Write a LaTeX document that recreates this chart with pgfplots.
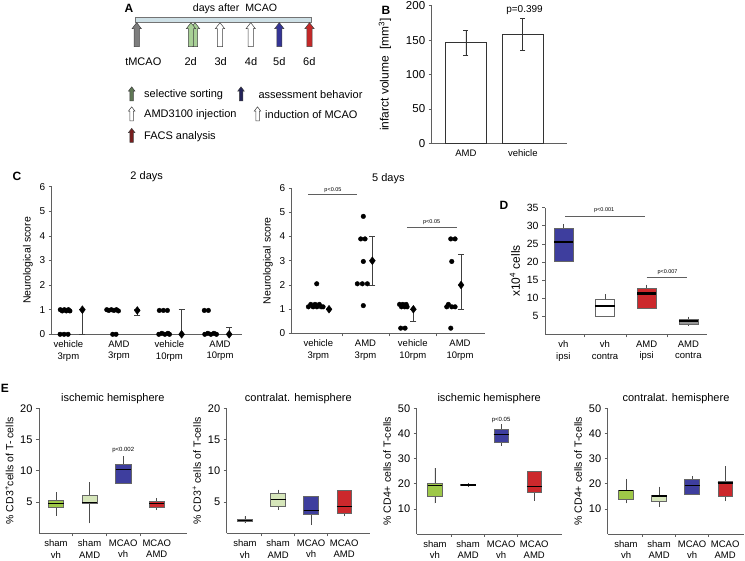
\documentclass[border=0pt]{standalone}
\usepackage{pgfplots}
\pgfplotsset{compat=1.18}
\usepgfplotslibrary{statistics}
\usetikzlibrary{shapes.arrows}
\usepackage{fontspec}
\setmainfont{Liberation Sans}
\setsansfont{Liberation Sans}

\definecolor{axgray}{RGB}{95,95,95}
\definecolor{boxblue}{RGB}{62,62,158}
\definecolor{boxred}{RGB}{204,40,44}
\definecolor{boxgreen}{RGB}{158,200,72}
\definecolor{boxpale}{RGB}{214,230,186}
\definecolor{boxgray}{RGB}{150,150,150}
\definecolor{barblue}{RGB}{206,224,230}
\definecolor{arrgray}{RGB}{125,125,125}
\definecolor{arrgreen}{RGB}{168,208,150}
\definecolor{arrblue}{RGB}{52,52,150}
\definecolor{arrred}{RGB}{196,40,40}
\definecolor{leggreen}{RGB}{95,120,85}
\definecolor{legblue}{RGB}{35,35,90}
\definecolor{legred}{RGB}{120,30,30}

\newcommand{\fs}[1]{\fontsize{#1}{#1}\selectfont}

\pgfplotsset{
  panel/.style={
    scale only axis, anchor=south west, clip=false,
    axis x line*=bottom, axis y line*=left,
    axis line style={axgray, line width=0.8pt, -},
    tick style={axgray, line width=0.7pt},
    tick align=outside, major tick length=3pt, minor tick length=3pt,
    /pgf/number format/assume math mode=true,
    tick label style={font=\fs{9.5}},
    xticklabel style={align=center, font=\fontsize{9.5}{11.5}\selectfont},
    label style={font=\fs{10.5}},
    title style={font=\fs{11}, yshift=-5pt},
  },
  bx/.style n args={6}{boxplot prepared={draw position=#1, lower whisker=#2,
    lower quartile=#3, median=#4, upper quartile=#5, upper whisker=#6}},
  boxes/.style={
    boxplot/draw direction=y,
    boxplot/box extend=0.45, boxplot/whisker extend=0,
    boxplot/every median/.style={line width=1.1pt, black},
    boxplot/every whisker/.style={black!70, line width=0.7pt},
  },
  sham/.style={xtick={1,2,3,4}, major x tick style={draw=none},
    minor xtick={1.5,2.5,3.5},
    xticklabels={{sham\\vh},{sham\\AMD},{MCAO\\vh},{MCAO\\AMD}}},
  dots/.style={only marks, mark=*, mark size=2.3pt, black},
  diam/.style={only marks, mark=diamond*, mark size=3.9pt, black,
    error bars/.cd, y dir=both, y explicit,
    error bar style={line width=0.8pt, black!75},
    error mark options={rotate=90, mark size=3pt, line width=0.8pt, black!75}},
}

\begin{document}
\begin{tikzpicture}
\useasboundingbox (0pt,0pt) rectangle (745pt,561pt);

% ---------- overlay: panel A schematic and panel letters ----------
\begin{axis}[hide axis, scale only axis, at={(0pt,0pt)}, anchor=south west,
  width=745pt, height=561pt, xmin=0, xmax=745, ymin=0, ymax=561,
  y dir=reverse, clip=false]
\tikzset{bigarr/.style={single arrow, rotate=90, draw=black!75, line width=0.5pt,
    minimum height=24pt, inner sep=2.3pt, single arrow head extend=2.1pt,
    single arrow tip angle=75},
  smallarr/.style={single arrow, rotate=90, draw=black!75, line width=0.5pt,
    minimum height=14pt, inner sep=1.5pt, single arrow head extend=1.5pt,
    single arrow tip angle=75}}
\node[font=\bfseries\fs{12}] at (axis cs:129,8.5) {A};
\node[font=\bfseries\fs{12}] at (axis cs:386,10) {B};
\node[font=\bfseries\fs{12}] at (axis cs:17,176) {C};
\node[font=\bfseries\fs{12}] at (axis cs:504,205) {D};
\node[font=\bfseries\fs{12}] at (axis cs:5,388) {E};
\node[font=\fs{10.6}] at (axis cs:235,8.5) {days after\ \ MCAO};
\draw[fill=barblue, draw=black!55, line width=0.5pt] (axis cs:135,17.7) rectangle (axis cs:311.7,22.3);
\node[bigarr, fill=arrgray] at (axis cs:136.7,36.3) {};
\node[bigarr, fill=arrgreen] at (axis cs:195,36.3) {};
\node[bigarr, fill=arrgreen] at (axis cs:191,36.3) {};
\node[bigarr, fill=white] at (axis cs:220,36.3) {};
\node[bigarr, fill=white] at (axis cs:250.7,36.3) {};
\node[bigarr, fill=arrblue] at (axis cs:279.3,36.3) {};
\node[bigarr, fill=arrred] at (axis cs:309.5,36.3) {};
\begin{scope}[font=\fs{11}]
\node at (axis cs:143.3,62) {tMCAO};
\node at (axis cs:190.7,62) {2d};
\node at (axis cs:220.7,62) {3d};
\node at (axis cs:251,62) {4d};
\node at (axis cs:279.3,62) {5d};
\node at (axis cs:309.3,62) {6d};
\node[smallarr, fill=leggreen] at (axis cs:131.7,95) {};
\node[anchor=west, inner sep=0pt] at (axis cs:144,95) {selective sorting};
\node[smallarr, fill=white] at (axis cs:131.7,115) {};
\node[anchor=west, inner sep=0pt] at (axis cs:144,115) {AMD3100 injection};
\node[smallarr, fill=legred] at (axis cs:131.7,136.5) {};
\node[anchor=west, inner sep=0pt] at (axis cs:144,136.5) {FACS analysis};
\node[smallarr, fill=legblue] at (axis cs:241,95) {};
\node[anchor=west, inner sep=0pt] at (axis cs:258.3,95) {assessment behavior};
\node[smallarr, fill=white] at (axis cs:257.5,115) {};
\node[anchor=west, inner sep=0pt] at (axis cs:265,115) {induction of MCAO};
\end{scope}
\end{axis}

% ---------- B ----------
\begin{axis}[panel, at={(431.7pt,417.7pt)}, width=135pt, height=137.6pt,
  xmin=0.4, xmax=2.77, ymin=0, ymax=200, ytick={0,50,100,150,200},
  xtick={1,2}, xticklabels={AMD,vehicle}, xtick style={draw=none},
  tick label style={font=\fs{11.5}}, label style={font=\fs{12}},
  ylabel style={yshift=8pt},
  ylabel={infarct volume\ \ [mm\textsuperscript{3}]}]
\addplot[ybar, bar width=41pt, fill=white, draw=black!80, line width=0.8pt,
  error bars/.cd, y dir=both, y explicit,
  error bar style={line width=0.7pt, black!80},
  error mark options={rotate=90, mark size=2.5pt, line width=0.7pt, black!80}]
  coordinates {(1,146) +- (0,17.5) (2,158) +- (0,23.5)};
\node[font=\fs{10}] at (axis cs:2.03,193) {p=0.399};
\end{axis}

% ---------- C, 2 days ----------
\begin{axis}[panel, at={(51.7pt,226.7pt)}, width=190pt, height=147.6pt,
  xmin=0.67, xmax=4.43, ymin=0, ymax=6, ytick={0,1,2,3,4,5,6},
  xtick={1,2,3,4}, xtick style={draw=none},
  tick label style={font=\fs{10}},
  xticklabels={{vehicle\\3rpm},{AMD\\3rpm},{vehicle\\10rpm},{AMD\\10rpm}},
  ylabel={Neurological score}, title={2 days}]
\addplot[dots] coordinates {
  (0.84,1) (0.88,0.95) (0.92,1) (0.96,0.95) (1.0,1) (1.03,0.95)
  (0.836,0) (0.915,0) (0.994,0)
  (1.76,1) (1.80,0.97) (1.85,1) (1.90,0.97) (1.95,1) (1.99,0.95)
  (1.877,0) (1.943,0)
  (2.80,0.97) (2.88,0.97) (2.96,0.97)
  (2.79,0) (2.85,0.04) (2.91,0) (2.97,0.04) (3.0,0)
  (3.69,0.97) (3.77,0.97)
  (3.70,0) (3.76,0.04) (3.82,0) (3.88,0.04) (3.93,0)};
\addplot[diam] coordinates {
  (1.277,1) += (0,0) -= (0,1)
  (2.364,0.97) += (0,0.06) -= (0,0.22)
  (3.241,0) += (0,1) -= (0,0)
  (4.182,0) += (0,0.28) -= (0,0)};
\end{axis}

% ---------- C, 5 days ----------
\begin{axis}[panel, at={(291.7pt,227.5pt)}, width=193.3pt, height=145.5pt,
  xmin=0.436, xmax=4.53, ymin=0, ymax=6, ytick={0,1,2,3,4,5,6},
  xtick={1,2,3,4}, major x tick style={draw=none}, minor xtick={1.5,2.5,3.5},
  tick label style={font=\fs{10}},
  xticklabels={{vehicle\\3rpm},{AMD\\3rpm},{vehicle\\10rpm},{AMD\\10rpm}},
  ylabel={Neurological score}, title={5 days}]
\addplot[dots] coordinates {
  (0.966,2.05)
  (0.79,1.1) (0.84,1.2) (0.89,1.1) (0.93,1.2) (0.97,1.1) (1.02,1.2) (1.06,1.1) (1.10,1.1)
  (1.953,4.83) (1.898,3.9) (1.989,3.9) (1.953,2.97)
  (1.826,2.05) (1.932,2.05) (2.038,2.05) (1.953,1.15)
  (2.72,1.2) (2.76,1.1) (2.79,1.2) (2.83,1.1) (2.86,1.2) (2.88,1.1)
  (2.745,0.22) (2.837,0.22)
  (3.805,3.9) (3.896,3.9) (3.826,2.97)
  (3.754,1.2) (3.72,1.1) (3.826,1.1) (3.896,1.1) (3.805,0.22)};
\addplot[diam] coordinates {
  (1.227,1.0) += (0,0) -= (0,0)
  (2.144,3.0) += (0,1) -= (0,1)
  (3.013,1.0) += (0,0) -= (0,0.5)
  (4.023,2.0) += (0,1.25) -= (0,1)};
\draw[axgray, line width=0.8pt] (axis cs:0.788,5.72) -- (axis cs:1.826,5.72);
\node[font=\fs{5.5}, above] at (axis cs:1.31,5.68) {p<0.05};
\draw[axgray, line width=0.8pt] (axis cs:2.873,4.39) -- (axis cs:3.93,4.39);
\node[font=\fs{5.5}, above] at (axis cs:3.4,4.35) {p<0.05};
\end{axis}

% ---------- D ----------
\begin{axis}[panel, boxes, at={(545pt,226.7pt)}, width=161.7pt, height=126.6pt,
  xmin=0.56, xmax=4.44, ymin=0, ymax=35, ytick={5,10,15,20,25,30,35},
  xtick={1,2,3,4}, major x tick style={draw=none}, minor xtick={1.5,2.5,3.5},
  tick label style={font=\fs{10.5}},
  xticklabels={{vh\\ipsi},{vh\\contra},{AMD\\ipsi},{AMD\\contra}},
  boxplot/box extend=0.46,
  boxplot/every median/.style={line width=2.2pt, black},
  label style={font=\fs{12}},
  ylabel={x10\textsuperscript{4} cells}]
\addplot[bx={1}{20.3}{20.3}{25.5}{29.2}{30.5}, fill=boxblue, draw=black!60] coordinates {};
\addplot[bx={2}{5.0}{5.1}{7.9}{9.7}{11.1}, fill=white, draw=black!60] coordinates {};
\addplot[bx={3}{7.2}{7.2}{11.3}{12.7}{13.7}, fill=boxred, draw=black!60] coordinates {};
\addplot[bx={4}{2.4}{2.9}{3.7}{4.2}{4.9}, fill=boxgray, draw=black!60] coordinates {};
\draw[axgray, line width=0.8pt] (axis cs:1.04,32.7) -- (axis cs:2.96,32.7);
\node[font=\fs{5.5}, above] at (axis cs:1.98,32.6) {p<0.001};
\draw[axgray, line width=0.8pt] (axis cs:3.0,15.6) -- (axis cs:3.96,15.6);
\node[font=\fs{5.5}, above] at (axis cs:3.5,15.5) {p<0.007};
\end{axis}

% ---------- E1 ----------
\begin{axis}[panel, boxes, sham, at={(39pt,27.7pt)}, width=147.7pt, height=125pt,
  xmin=0.494, xmax=4.89, ymin=0, ymax=20, ytick={5,10,15,20},
  tick label style={font=\fs{11}},
  ylabel={\% CD3\textsuperscript{+}cells of T- cells}, title={ischemic hemisphere}]
\addplot[bx={1}{2.8}{4.1}{4.7}{5.3}{6.6}, fill=boxgreen, draw=black!60] coordinates {};
\addplot[bx={2}{1.6}{4.8}{4.9}{6.1}{8.2}, fill=boxpale, draw=black!60] coordinates {};
\addplot[bx={3}{7.9}{8.0}{10.2}{11.0}{12.3}, fill=boxblue, draw=black!60] coordinates {};
\addplot[bx={4}{3.7}{4.1}{4.7}{5.2}{5.6}, fill=boxred, draw=black!60] coordinates {};
\node[font=\fs{6}] at (axis cs:3,13.4) {p<0.002};
\end{axis}

% ---------- E2 ----------
\begin{axis}[panel, boxes, sham, at={(226.7pt,27.7pt)}, width=143.3pt, height=125pt,
  xmin=0.447, xmax=4.78, ymin=0, ymax=20, ytick={5,10,15,20},
  tick label style={font=\fs{11}},
  ylabel={\% CD3\textsuperscript{+} cells of T-cells}, title={contralat. hemisphere}]
\addplot[bx={1}{1.6}{2.0}{2.1}{2.2}{2.7}, fill=boxgreen, draw=black!60] coordinates {};
\addplot[bx={2}{3.8}{4.3}{5.4}{6.4}{7.0}, fill=boxpale, draw=black!60] coordinates {};
\addplot[bx={3}{1.3}{3.0}{3.6}{5.9}{5.9}, fill=boxblue, draw=black!60] coordinates {};
\addplot[bx={4}{2.7}{3.2}{4.3}{6.9}{6.9}, fill=boxred, draw=black!60] coordinates {};
\end{axis}

% ---------- E3 ----------
\begin{axis}[panel, boxes, sham, at={(416.7pt,27pt)}, width=145pt, height=125.7pt,
  xmin=0.447, xmax=4.83, ymin=0, ymax=50, ytick={10,20,30,40,50},
  tick label style={font=\fs{11}},
  ylabel={\% CD4+ cells of T-cells}, title={ischemic hemisphere}]
\addplot[bx={1}{12.2}{15.1}{19.3}{20.1}{26.2}, fill=boxgreen, draw=black!60] coordinates {};
\addplot[bx={2}{18.8}{19.3}{19.5}{19.8}{20.3}, fill=boxpale, draw=black!60] coordinates {};
\addplot[bx={3}{35.1}{36.5}{39.5}{41.5}{43.7}, fill=boxblue, draw=black!60] coordinates {};
\addplot[bx={4}{13.3}{16.8}{18.8}{25.0}{25.0}, fill=boxred, draw=black!60] coordinates {};
\node[font=\fs{6}] at (axis cs:3,45.5) {p<0.05};
\end{axis}

% ---------- E4 ----------
\begin{axis}[panel, boxes, sham, at={(607.7pt,27pt)}, width=136.6pt, height=125.7pt,
  xmin=0.445, xmax=4.58, ymin=0, ymax=50, ytick={10,20,30,40,50},
  tick label style={font=\fs{11}},
  ylabel={\% CD4+ cells of T-cells}, title={contralat. hemisphere}]
\addplot[bx={1}{12.2}{14.0}{17.2}{17.4}{21.9}, fill=boxgreen, draw=black!60] coordinates {};
\addplot[bx={2}{10.8}{13.1}{15.1}{15.6}{18.8}, fill=boxpale, draw=black!60] coordinates {};
\addplot[bx={3}{15.7}{15.7}{19.3}{21.9}{23.0}, fill=boxblue, draw=black!60] coordinates {};
\addplot[bx={4}{13.1}{15.1}{20.3}{21.0}{26.9}, fill=boxred, draw=black!60] coordinates {};
\end{axis}
\end{tikzpicture}
\end{document}
